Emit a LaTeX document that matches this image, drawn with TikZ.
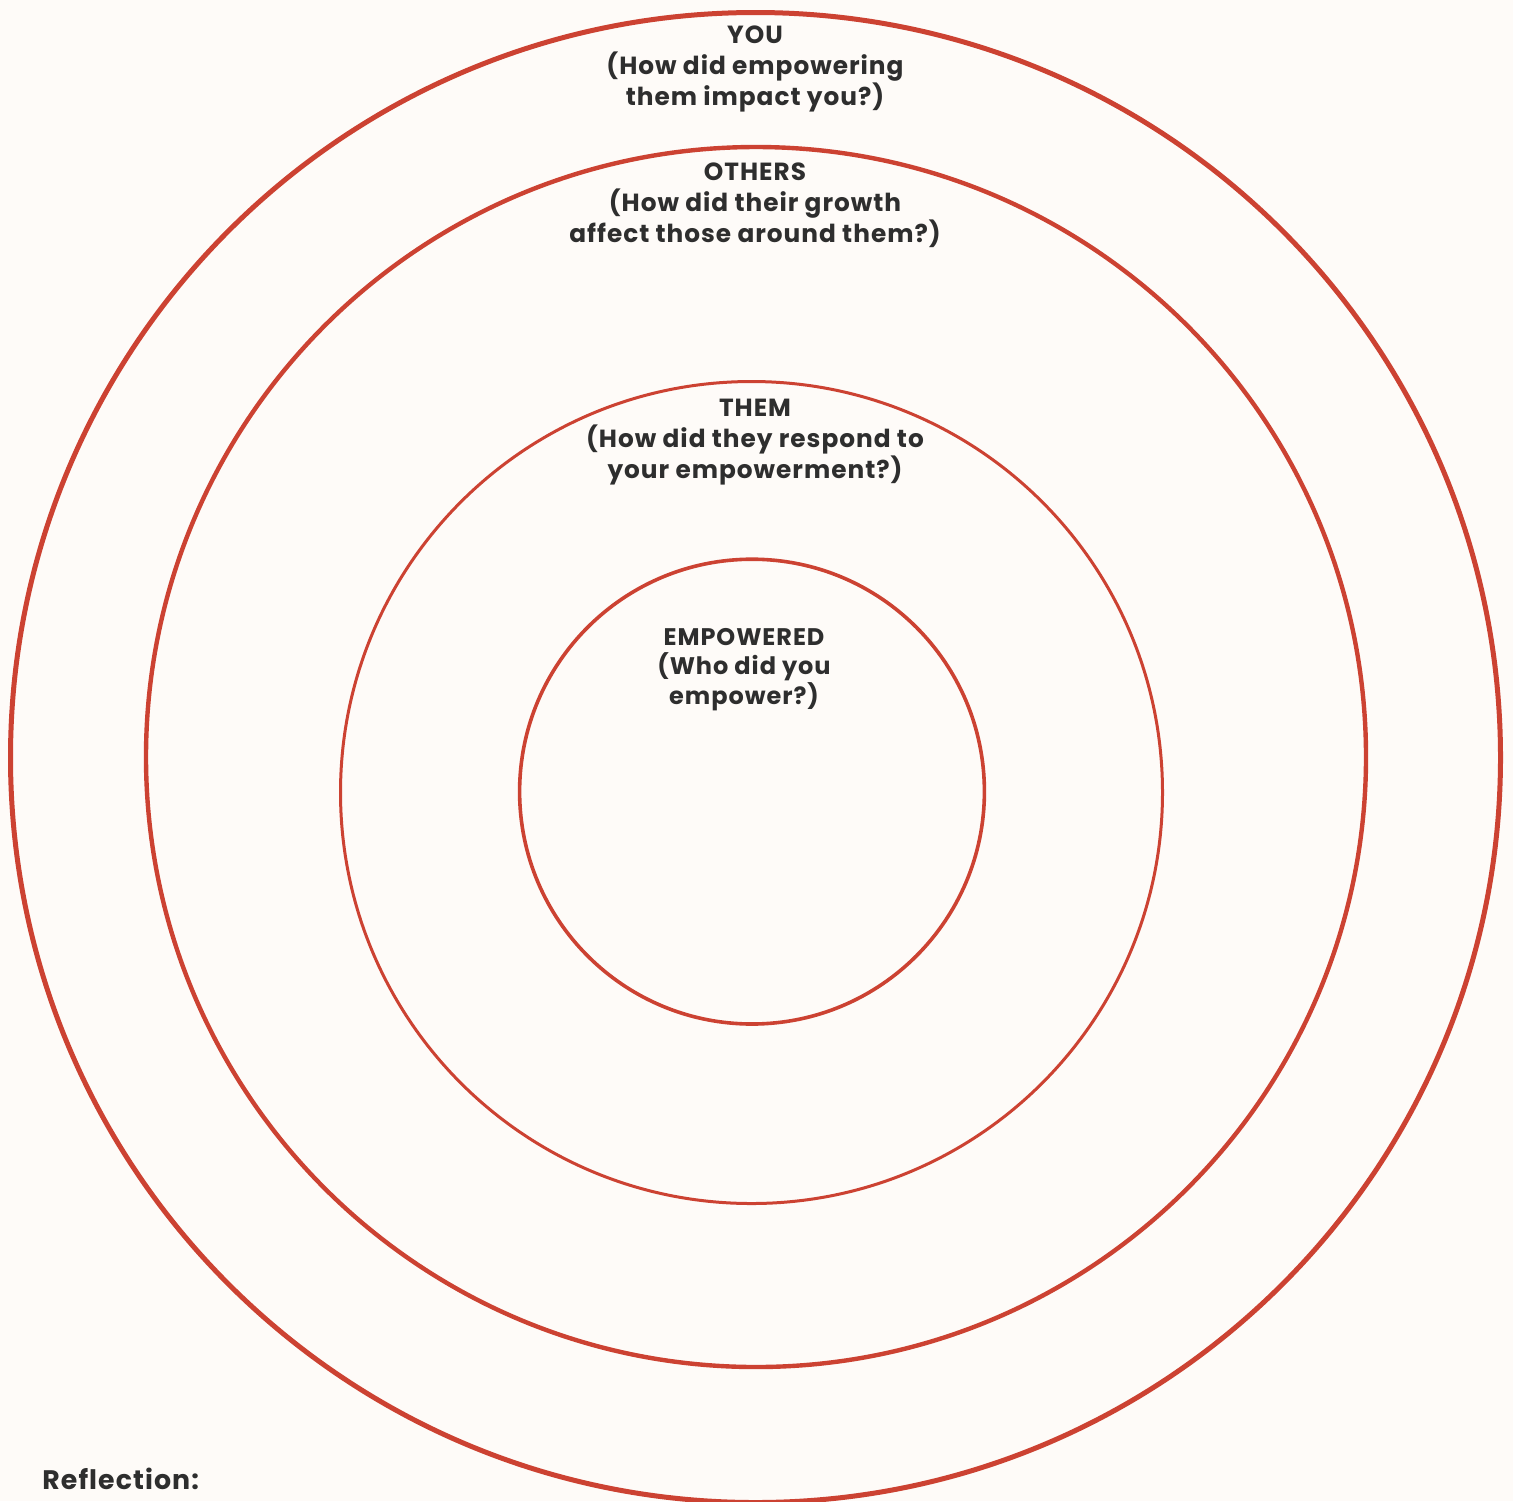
\documentclass[tikz,border=0pt]{standalone}
\usepackage{fontspec}
\setmainfont{Poppins}[LetterSpace=4]
\usepackage{tikz}
\usetikzlibrary{positioning}

\definecolor{ringred}{HTML}{CC4232}
\definecolor{inkgray}{HTML}{2E2E2E}
\definecolor{paper}{HTML}{FEFBF8}

\tikzset{
	ring/.style={draw=ringred},
	lbl/.style={align=center, anchor=north, inner sep=0pt, text=inkgray, font=\bfseries\fontsize{12.4}{15.5}\selectfont}
}

\begin{document}
\begin{tikzpicture}[x=0.5pt, y=-0.5pt]
\fill[paper] (0,0) rectangle (1513,1501);
\useasboundingbox (0,0) rectangle (1513,1501);

\coordinate (c1) at (755.5,757.5);
\coordinate (c2) at (756,757);
\coordinate (c3) at (751.5,792.5);
\coordinate (c4) at (752,791.6);

\draw[ring, line width=2.5pt] (c1) circle [radius=745];
\draw[ring, line width=2.2pt] (c2) circle [radius=610];
\draw[ring, line width=1.5pt] (c3) circle [radius=411];
\draw[ring, line width=1.8pt] (c4) circle [radius=232.4];

\node[lbl] (you) at (755,25) {YOU\\(How did empowering\\them impact you?)};
\node[lbl] (others) at (755,162) {OTHERS\\(How did their growth\\affect those around them?)};
\node[lbl] (them) at (755,399) {THEM\\(How did they respond to\\your empowerment?)};
\node[lbl, font=\bfseries\fontsize{12}{14.7}\selectfont] (empowered) at (744,628) {EMPOWERED\\(Who did you\\empower?)};

\node[anchor=north west, inner sep=0pt, text=inkgray, font=\bfseries\fontsize{13.4}{15}\selectfont] (reflection) at (42,1468) {Reflection:};
\end{tikzpicture}
\end{document}
